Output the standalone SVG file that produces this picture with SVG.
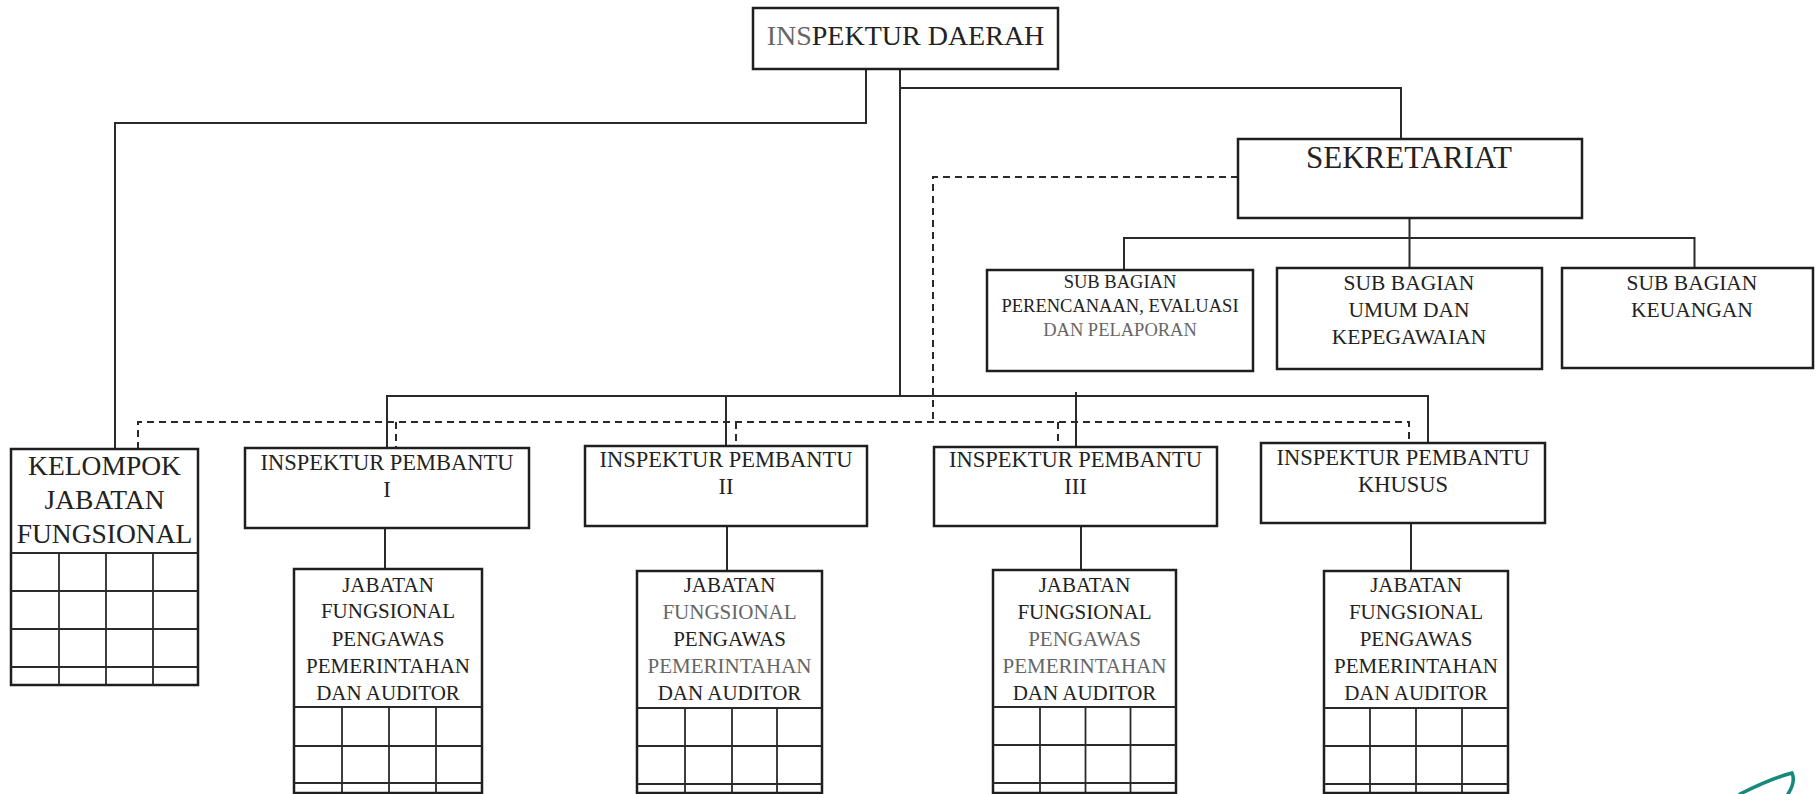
<svg xmlns="http://www.w3.org/2000/svg" width="1817" height="794" viewBox="0 0 1817 794">
  <defs>
    <style>
      .box { fill: #ffffff; stroke: #1e1e1e; stroke-width: 2.5; }
      .ln { fill: none; stroke: #2a2a2a; stroke-width: 2; }
      .dash { fill: none; stroke: #2a2a2a; stroke-width: 2; stroke-dasharray: 7 5; }
      .grid { fill: none; stroke: #2a2a2a; stroke-width: 1.8; }
      text { font-family: "Liberation Serif", "Times New Roman", serif; fill: #222222; text-anchor: middle; }
      .t-head { font-size: 28px; }
      .t-sek { font-size: 31px; }
      .t-sub { font-size: 18.5px; }
      .t-sub2 { font-size: 21.5px; }
      .t-kel { font-size: 27.5px; }
      .t-ip { font-size: 22.5px; }
      .t-jf { font-size: 21px; }
      .soft { fill: #666666; }
    </style>
  </defs>

  <rect x="0" y="0" width="1817" height="794" fill="#ffffff"/>

  <!-- connectors -->
  <g id="connectors">
    <!-- solid lines of command -->
    <path class="ln" d="M866,69 V123 H115 V449"/>
    <path class="ln" d="M900,69 V396"/>
    <path class="ln" d="M900,88 H1401 V139"/>
    <path class="ln" d="M1409.5,218 V268"/>
    <path class="ln" d="M1124,270 V238 H1694.5 V268"/>
    <path class="ln" d="M387,448 V396 H1428 V443"/>
    <path class="ln" d="M726,396 V446"/>
    <path class="ln" d="M1076,392 V447"/>
    <path class="ln" d="M385,528 V569"/>
    <path class="ln" d="M727,526 V571"/>
    <path class="ln" d="M1081,526 V570"/>
    <path class="ln" d="M1411,523 V571"/>
    <!-- dashed lines of coordination -->
    <path class="dash" d="M1238,177 H933 V422"/>
    <path class="dash" d="M138,449 V422 H1409 V443"/>
    <path class="dash" d="M396,422 V448"/>
    <path class="dash" d="M736,422 V446"/>
    <path class="dash" d="M1058,422 V447"/>
  </g>

  <!-- top level -->
  <g id="inspektur-daerah">
    <rect class="box" x="753" y="8" width="305" height="61"/>
    <text class="t-head" x="905.5" y="45"><tspan class="soft">INS</tspan>PEKTUR DAERAH</text>
  </g>

  <g id="sekretariat">
    <rect class="box" x="1238" y="139" width="344" height="79"/>
    <text class="t-sek" x="1409" y="168">SEKRETARIAT</text>
  </g>

  <g id="subbag-perencanaan">
    <rect class="box" x="987" y="270" width="266" height="101"/>
    <text class="t-sub" x="1120" y="288">SUB BAGIAN</text>
    <text class="t-sub" x="1120" y="312">PERENCANAAN, EVALUASI</text>
    <text class="t-sub soft" x="1120" y="336">DAN PELAPORAN</text>
  </g>

  <g id="subbag-umum">
    <rect class="box" x="1277" y="268" width="265" height="101"/>
    <text class="t-sub2" x="1409" y="290">SUB BAGIAN</text>
    <text class="t-sub2" x="1409" y="317">UMUM DAN</text>
    <text class="t-sub2" x="1409" y="344">KEPEGAWAIAN</text>
  </g>

  <g id="subbag-keuangan">
    <rect class="box" x="1562" y="268" width="251" height="100"/>
    <text class="t-sub2" x="1692" y="290">SUB BAGIAN</text>
    <text class="t-sub2" x="1692" y="317">KEUANGAN</text>
  </g>

  <!-- functional group -->
  <g id="kelompok-jabatan-fungsional">
    <rect class="box" x="11" y="449" width="187" height="236"/>
    <text class="t-kel" x="104.5" y="475">KELOMPOK</text>
    <text class="t-kel" x="104.5" y="509">JABATAN</text>
    <text class="t-kel" x="104.5" y="543">FUNGSIONAL</text>
    <path class="grid" d="M11,553 H198 M11,591 H198 M11,629 H198 M11,667 H198 M59,553 V685 M106,553 V685 M153,553 V685"/>
  </g>

  <!-- assistant inspectors -->
  <g id="inspektur-pembantu-1">
    <rect class="box" x="245" y="448" width="284" height="80"/>
    <text class="t-ip" x="387" y="470">INSPEKTUR PEMBANTU</text>
    <text class="t-ip" x="387" y="497">I</text>
  </g>

  <g id="inspektur-pembantu-2">
    <rect class="box" x="585" y="446" width="282" height="80"/>
    <text class="t-ip" x="726" y="467">INSPEKTUR PEMBANTU</text>
    <text class="t-ip" x="726" y="494">II</text>
  </g>

  <g id="inspektur-pembantu-3">
    <rect class="box" x="934" y="447" width="283" height="79"/>
    <text class="t-ip" x="1075.5" y="467">INSPEKTUR PEMBANTU</text>
    <text class="t-ip" x="1075.5" y="494">III</text>
  </g>

  <g id="inspektur-pembantu-khusus">
    <rect class="box" x="1261" y="443" width="284" height="80"/>
    <text class="t-ip" x="1403" y="465">INSPEKTUR PEMBANTU</text>
    <text class="t-ip" x="1403" y="492">KHUSUS</text>
  </g>

  <!-- auditor groups -->
  <g id="jf-pengawas-1">
    <rect class="box" x="294" y="569" width="188" height="224"/>
    <text class="t-jf" x="388" y="592">JABATAN</text>
    <text class="t-jf" x="388" y="618">FUNGSIONAL</text>
    <text class="t-jf" x="388" y="646">PENGAWAS</text>
    <text class="t-jf" x="388" y="673">PEMERINTAHAN</text>
    <text class="t-jf" x="388" y="700">DAN AUDITOR</text>
    <path class="grid" d="M294,707 H482 M294,746 H482 M294,783 H482 M342,707 V793 M389,707 V793 M436,707 V793"/>
  </g>

  <g id="jf-pengawas-2">
    <rect class="box" x="637" y="571" width="185" height="222"/>
    <text class="t-jf" x="729.5" y="592">JABATAN</text>
    <text class="t-jf soft" x="729.5" y="619">FUNGSIONAL</text>
    <text class="t-jf" x="729.5" y="646">PENGAWAS</text>
    <text class="t-jf soft" x="729.5" y="673">PEMERINTAHAN</text>
    <text class="t-jf" x="729.5" y="700">DAN AUDITOR</text>
    <path class="grid" d="M637,708 H822 M637,746 H822 M637,784 H822 M685,708 V793 M732,708 V793 M777,708 V793"/>
  </g>

  <g id="jf-pengawas-3">
    <rect class="box" x="993" y="570" width="183" height="223"/>
    <text class="t-jf" x="1084.5" y="592">JABATAN</text>
    <text class="t-jf" x="1084.5" y="619">FUNGSIONAL</text>
    <text class="t-jf soft" x="1084.5" y="646">PENGAWAS</text>
    <text class="t-jf soft" x="1084.5" y="673">PEMERINTAHAN</text>
    <text class="t-jf" x="1084.5" y="700">DAN AUDITOR</text>
    <path class="grid" d="M993,707 H1176 M993,745 H1176 M993,783 H1176 M1040,707 V793 M1085.5,707 V793 M1130.5,707 V793"/>
  </g>

  <g id="jf-pengawas-khusus">
    <rect class="box" x="1324" y="571" width="184" height="222"/>
    <text class="t-jf" x="1416" y="592">JABATAN</text>
    <text class="t-jf" x="1416" y="619">FUNGSIONAL</text>
    <text class="t-jf" x="1416" y="646">PENGAWAS</text>
    <text class="t-jf" x="1416" y="673">PEMERINTAHAN</text>
    <text class="t-jf" x="1416" y="700">DAN AUDITOR</text>
    <path class="grid" d="M1324,708 H1508 M1324,746 H1508 M1324,784 H1508 M1370,708 V793 M1416,708 V793 M1462,708 V793"/>
  </g>

  <!-- pen stroke at the lower right -->
  <path d="M1740,794 C1758,785 1776,777 1792,773 C1795,780 1792,788 1788,794" fill="none" stroke="#17897a" stroke-width="3.5" stroke-linecap="round"/>
</svg>
